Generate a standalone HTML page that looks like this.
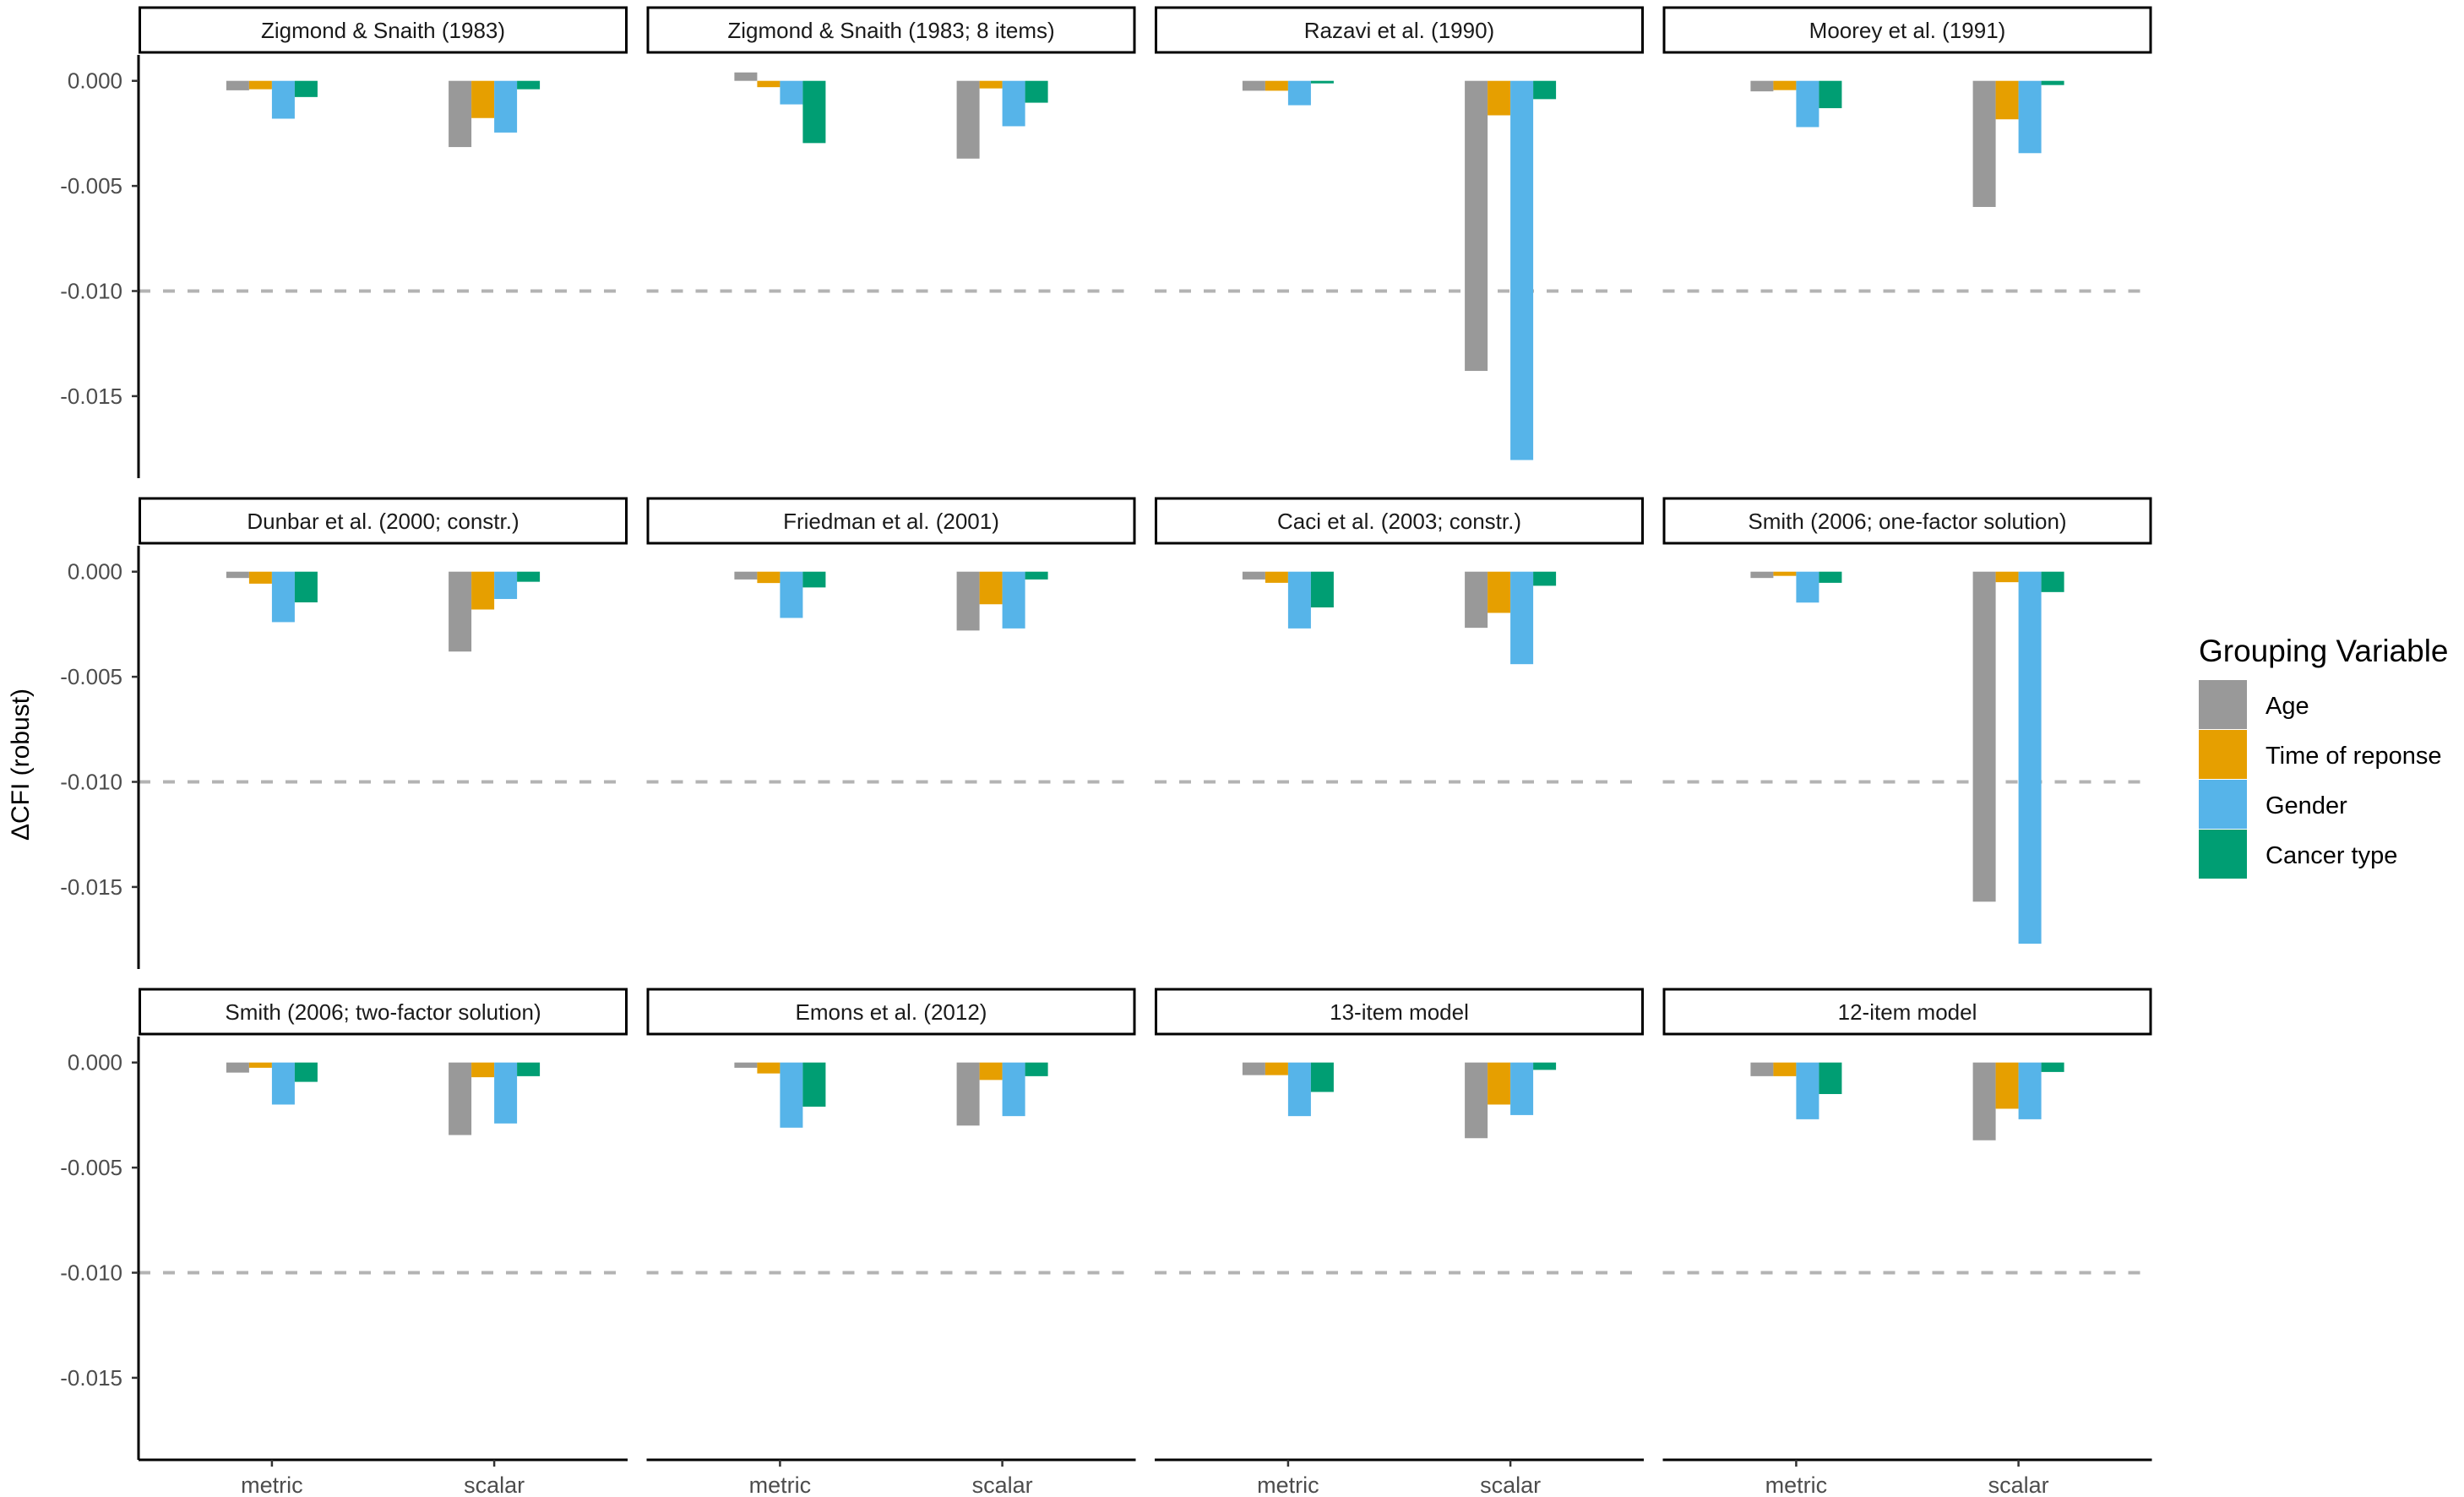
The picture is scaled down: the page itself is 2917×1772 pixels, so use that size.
<!DOCTYPE html>
<html><head><meta charset="utf-8">
<style>
html,body{margin:0;padding:0;background:#fff;}
svg{display:block;font-family:"Liberation Sans",Arial,sans-serif;}
</style></head>
<body>
<svg id="chart" width="2917" height="1772" viewBox="0 0 2917 1772" xmlns="http://www.w3.org/2000/svg">
<rect x="0" y="0" width="2917" height="1772" fill="#fff"/>
<text transform="translate(34,905) rotate(-90)" text-anchor="middle" font-size="30" fill="#000">ΔCFI (robust)</text>
<g id="panels"></g>
<g>
<text x="2603" y="783" font-size="37" fill="#000">Grouping Variable</text>
<g id="legend-items"></g>
</g>
</svg>
<script>
const panelTitles = ["Zigmond & Snaith (1983)","Zigmond & Snaith (1983; 8 items)","Razavi et al. (1990)","Moorey et al. (1991)","Dunbar et al. (2000; constr.)","Friedman et al. (2001)","Caci et al. (2003; constr.)","Smith (2006; one-factor solution)","Smith (2006; two-factor solution)","Emons et al. (2012)","13-item model","12-item model"];
const categories = ["metric","scalar"];
const groups = ["Age","Time of reponse","Gender","Cancer type"];
const colors = ["#999999","#E69F00","#56B4E9","#009E73"];
const yTicks = [0,-0.005,-0.010,-0.015];
const yTickLabels = ["0.000","-0.005","-0.010","-0.015"];
const refLine = -0.010;
const ageMetric    = [-0.00045, 0.0004,-0.00047,-0.0005,-0.0003,-0.00037,-0.00037,-0.0003,-0.00048,-0.00025,-0.0006,-0.00065];
const timeMetric   = [-0.0004,-0.0003,-0.00047,-0.00044,-0.00057,-0.00054,-0.00053,-0.0002,-0.00025,-0.00052,-0.0006,-0.00065];
const genderMetric = [-0.0018,-0.00112,-0.00116,-0.0022,-0.0024,-0.0022,-0.0027,-0.00147,-0.002,-0.0031,-0.00255,-0.0027];
const cancerMetric = [-0.00077,-0.00296,-0.00012,-0.0013,-0.00146,-0.00075,-0.0017,-0.00053,-0.00092,-0.0021,-0.0014,-0.0015];
const ageScalar    = [-0.00315,-0.0037,-0.0138,-0.006,-0.0038,-0.0028,-0.00267,-0.0157,-0.00345,-0.003,-0.0036,-0.0037];
const timeScalar   = [-0.00177,-0.00036,-0.00164,-0.00183,-0.0018,-0.00155,-0.00196,-0.0005,-0.0007,-0.00083,-0.002,-0.0022];
const genderScalar = [-0.00246,-0.00216,-0.01804,-0.00344,-0.0013,-0.0027,-0.0044,-0.0177,-0.0029,-0.00255,-0.0025,-0.0027];
const cancerScalar = [-0.0004,-0.00104,-0.00087,-0.0002,-0.00048,-0.00037,-0.00067,-0.00097,-0.00065,-0.00065,-0.00035,-0.00045];

const NS="http://www.w3.org/2000/svg";
function mk(tag,attrs,parent){const e=document.createElementNS(NS,tag);for(const k in attrs)e.setAttribute(k,attrs[k]);parent.appendChild(e);return e;}
const PANEL_W=579, COL_STEP=601.5, LEFT0=164, ROW_STEP=581;
const PLOT_TOP=65, PLOT_BOT=566, ZERO0=95.7, PX_PER_UNIT=24880;
function yScale(v,row){return ZERO0+row*ROW_STEP - v*PX_PER_UNIT;}
function xCenter(ci,col){const left=LEFT0+col*COL_STEP;return left+PANEL_W*(0.6+ci)/2.2;}
const BAR_W=27;
const root=document.getElementById('panels');
const metricSeries=[ageMetric,timeMetric,genderMetric,cancerMetric];
const scalarSeries=[ageScalar,timeScalar,genderScalar,cancerScalar];

for(let p=0;p<12;p++){
  const row=Math.floor(p/4), col=p%4;
  const left=LEFT0+col*COL_STEP, top=row*ROW_STEP;
  const g=mk('g',{},root);
  
  
  const strip=mk('rect',{x:left+1.5,y:top+9,width:PANEL_W-3,height:53,fill:'#fff',stroke:'#000','stroke-width':3},g);
  
  
  const st=mk('text',{x:left+PANEL_W/2,y:top+45,'text-anchor':'middle','font-size':26,fill:'#1a1a1a'},g);
  st.textContent=panelTitles[p];
  
  
  const rl=mk('line',{x1:left,x2:left+PANEL_W,y1:yScale(refLine,row),y2:yScale(refLine,row),stroke:'#b3b3b3','stroke-width':4,'stroke-dasharray':'14 15'},g);
  
  
  [metricSeries,scalarSeries].forEach((ser,ci)=>{
    const cx=xCenter(ci,col);
    for(let s=0;s<4;s++){
      const v=ser[s][p];
      const y0=yScale(0,row), y1=yScale(v,row);
      const b=mk('rect',{x:cx-2*BAR_W+s*BAR_W,y:Math.min(y0,y1),width:BAR_W,height:Math.abs(y1-y0),fill:colors[s]},g);
      
      
    }
  });
  if(col===0){
    const ax=mk('line',{x1:left,x2:left,y1:top+PLOT_TOP,y2:top+PLOT_BOT,stroke:'#000','stroke-width':3},g);
    
    
    yTicks.forEach((t,i)=>{
      const yy=yScale(t,row);
      const tk=mk('line',{x1:left-8,x2:left,y1:yy,y2:yy,stroke:'#333','stroke-width':2.5},g);
      
      
      const tl=mk('text',{x:left-19,y:yy+9,'text-anchor':'end','font-size':26,fill:'#4d4d4d'},g);
      tl.textContent=yTickLabels[i];
      
      
    });
  }
  if(row===2){
    const xa=mk('line',{x1:left,x2:left+PANEL_W,y1:top+PLOT_BOT,y2:top+PLOT_BOT,stroke:'#000','stroke-width':3},g);
    
    
    categories.forEach((c,ci)=>{
      const cx=xCenter(ci,col);
      const tk=mk('line',{x1:cx,x2:cx,y1:top+PLOT_BOT,y2:top+PLOT_BOT+8,stroke:'#333','stroke-width':2.5},g);
      
      
      const tl=mk('text',{x:cx,y:top+PLOT_BOT+39,'text-anchor':'middle','font-size':27,fill:'#4d4d4d'},g);
      tl.textContent=c;
      
      
    });
  }
}
const li=document.getElementById('legend-items');
groups.forEach((gname,i)=>{
  const y=805+i*59;
  const k=mk('rect',{x:2603,y:y,width:57,height:58,fill:colors[i]},li);
  
  
  const t=mk('text',{x:2682,y:y+40,'font-size':29,fill:'#000'},li);
  t.textContent=gname;
  
  
});
</script>
</body></html>
